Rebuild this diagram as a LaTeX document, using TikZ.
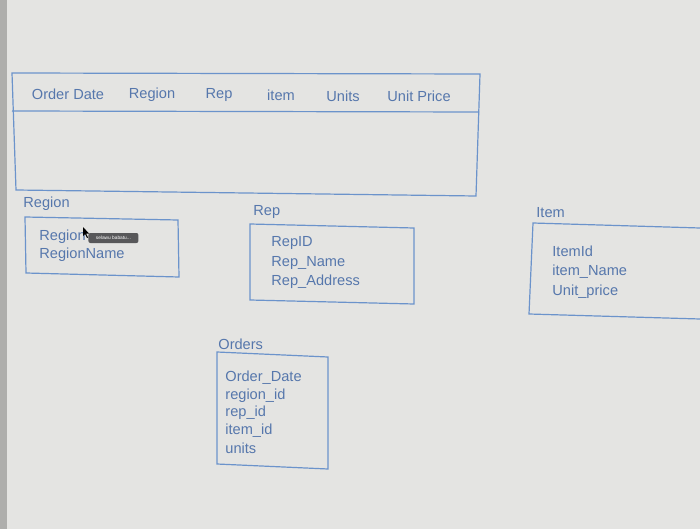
\documentclass[tikz,border=0pt]{standalone}
\usepackage{fontspec}
\setmainfont{Liberation Sans}
\definecolor{pantalla}{HTML}{E4E4E2}
\definecolor{borde}{HTML}{AEAEAC}
\definecolor{linea}{HTML}{6B93CB}
\definecolor{texto}{HTML}{5677AC}
\definecolor{globo}{HTML}{58585A}
\tikzset{
  caja/.style={draw=linea, line width=0.6pt},
  campo/.style={anchor=west, inner sep=0pt, text=texto, font=\fontsize{7.3}{8}\selectfont},
  titulo/.style={campo},
  cabecera/.style={inner sep=0pt, text=texto, font=\fontsize{7.3}{8}\selectfont},
}
\begin{document}
\begin{tikzpicture}[x=0.5pt,y=-0.5pt]
%
% fondo de la pantalla
\fill[pantalla] (0,0) rectangle (700,529);
\fill[borde] (0,0) rectangle (7,529);
\useasboundingbox (0,0) rectangle (700,529);
%
% tabla grande: cabecera y cuerpo
\draw[caja] (12,73) -- (480,74) -- (476,196) -- (16,190) -- cycle;
\draw[caja] (12,111) -- (479,112);
\node[cabecera] (c1) at (68,94) {Order Date};
\node[cabecera] (c2) at (152,95) {Region};
\node[cabecera] (c3) at (219,95) {Rep};
\node[cabecera] (c4) at (281,95) {item};
\node[cabecera] (c5) at (343,96) {Units};
\node[cabecera] (c6) at (419,96) {Unit Price};
%
% tabla Region
\node[titulo] (tregion) at (23,204) {Region};
\draw[caja] (25,217) -- (178,220) -- (179,277) -- (26,273) -- cycle;
\node[campo] (r1) at (39,237) {Region};
\node[campo] (r2) at (39,255) {RegionName};
% globo del cursor
\node[fill=globo, rounded corners=1pt, inner sep=0.8pt, minimum width=25pt, minimum height=5pt,
  text=white, font=\fontsize{2.4}{3}\selectfont, anchor=west] (globo) at (88,238) {selawu babatu...};
\fill[black] (83,227) -- (83,236) -- (85,234) -- (87,238) -- (88,237.5) -- (86,233.5) -- (89,233.5) -- cycle;
%
% tabla Rep
\node[titulo] (trep) at (253,212) {Rep};
\draw[caja] (250,224) -- (414,228) -- (414,304) -- (250,300) -- cycle;
\node[campo] (p1) at (271,243) {RepID};
\node[campo] (p2) at (271,263) {Rep\_Name};
\node[campo] (p3) at (271,282) {Rep\_Address};
%
% tabla Item
\node[titulo] (titem) at (536,213) {Item};
\draw[caja] (700,228) -- (533,223) -- (529,314) -- (700,319);
\node[campo] (i1) at (552,251) {ItemId};
\node[campo] (i2) at (552,272) {item\_Name};
\node[campo] (i3) at (552,292) {Unit\_price};
%
% tabla Orders
\node[titulo] (torders) at (218,344) {Orders};
\draw[caja] (217,352) -- (328,357) -- (328,469) -- (217,464) -- cycle;
\node[campo] (o1) at (225,378) {Order\_Date};
\node[campo] (o2) at (225,396) {region\_id};
\node[campo] (o3) at (225,413) {rep\_id};
\node[campo] (o4) at (225,431) {item\_id};
\node[campo] (o5) at (225,448) {units};
%
\end{tikzpicture}
\end{document}
